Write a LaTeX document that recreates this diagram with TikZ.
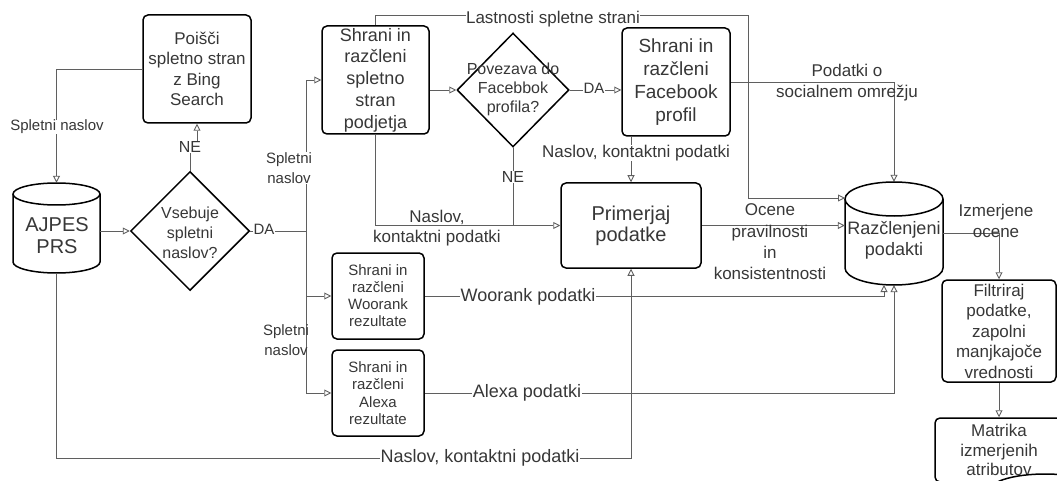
\documentclass[tikz,border=0pt]{standalone}
\usepackage{fontspec}
\setmainfont{Liberation Sans}
\usetikzlibrary{arrows.meta,shapes.geometric}
\definecolor{edgecol}{RGB}{95,95,95}
\definecolor{txtcol}{RGB}{55,55,55}
\newcommand\fsz[2]{\fontsize{#1}{#2}\selectfont}
\begin{document}
\begin{tikzpicture}[x=1pt,y=-1pt,
  box/.style={draw=black, line width=1.5pt, rounded corners=5pt, align=center, text=txtcol, inner sep=0pt},
  dia/.style={draw=black, line width=1.5pt, diamond, aspect=1, inner sep=0pt},
  edge/.style={draw=edgecol, line width=0.9pt, -{Triangle[open,length=7pt,width=7pt]}},
  plain/.style={draw=edgecol, line width=0.9pt},
  lbl/.style={text=txtcol, align=center, inner sep=0.5pt, font=\fsz{17}{21}},
  lblw/.style={lbl, fill=white},
  txt/.style={text=txtcol, align=center, inner sep=0pt}
]
\useasboundingbox (0,0) rectangle (1057,481);
\clip (0,0) rectangle (1057,481);

% ---- nodes ----
\node[box, minimum width=108pt, minimum height=108pt, font=\fsz{17}{20.5}] (bing) at (197,69) {Poišči\\spletno stran\\z Bing\\Search};

\node[minimum width=87pt, minimum height=90pt, inner sep=0pt] (ajpes) at (56.5,228) {};
\draw[line width=1.5pt] (13,194) -- (13,262) arc[start angle=180, end angle=360, x radius=43.5pt, y radius=11pt] -- (100,194) arc[start angle=0, end angle=180, x radius=43.5pt, y radius=11pt] -- cycle;
\draw[line width=1.5pt] (13,194) arc[start angle=180, end angle=360, x radius=43.5pt, y radius=11pt];
\node[txt, font=\fsz{20}{22}] at (57,236) {AJPES\\PRS};

\node[dia, minimum width=119pt, minimum height=119pt] (dia1) at (190,231) {};
\node[txt, font=\fsz{16}{20}] at (190,233) {Vsebuje\\spletni\\naslov?};

\node[box, minimum width=107pt, minimum height=108pt, font=\fsz{18}{21.7}] (web) at (375.5,80) {Shrani in\\razčleni\\spletno\\stran\\podjetja};

\node[dia, minimum width=112pt, minimum height=114pt] (dia2) at (513,90) {};
\node[txt, font=\fsz{16}{19}] at (513,89) {Povezava do\\Facebbok\\profila?};

\node[box, minimum width=108pt, minimum height=108pt, font=\fsz{19}{23}] (fb) at (676,82) {Shrani in\\razčleni\\Facebook\\profil};

\node[box, minimum width=140pt, minimum height=85pt, font=\fsz{20}{21}] (prim) at (631,225.5) {Primerjaj\\podatke};

\node[box, minimum width=92pt, minimum height=86pt, font=\fsz{15}{17}] (woo) at (378,296) {Shrani in\\razčleni\\Woorank\\rezultate};
\node[box, minimum width=92pt, minimum height=86pt, font=\fsz{15}{17.5}] (alexa) at (378,393) {Shrani in\\razčleni\\Alexa\\rezultate};

\node[minimum width=98pt, minimum height=103pt, inner sep=0pt] (razc) at (894,233.5) {};
\draw[line width=1.5pt] (845,199) -- (845,268) arc[start angle=180, end angle=360, x radius=49pt, y radius=17pt] -- (943,199) arc[start angle=0, end angle=180, x radius=49pt, y radius=17pt] -- cycle;
\draw[line width=1.5pt] (845,199) arc[start angle=180, end angle=360, x radius=49pt, y radius=17pt];
\node[txt, font=\fsz{18}{21}] at (894,240) {Razčlenjeni\\podakti};

\node[box, minimum width=114pt, minimum height=102pt, font=\fsz{17}{20.5}] (filt) at (999,331) {Filtriraj\\podatke,\\zapolni\\manjkajoče\\vrednosti};

\node[box, minimum width=128pt, minimum height=64pt, font=\fsz{17}{19.5}] (mat) at (999,450) {Matrika\\izmerjenih\\atributov};

% ---- coordinates ----
\coordinate (t) at (306,231);
\coordinate (top) at (748,15);
\coordinate (l1) at (845,198);
\coordinate (b) at (0,458);

% ---- connectors ----
\draw[edge] (ajpes.east |- dia1) -- (dia1.west);
\draw[edge] (dia1.north) -- (190,152) -| (bing.south);
\draw[edge] (bing.west) -| (ajpes.north);
\draw[plain] (dia1.east) -- (t);
\draw[edge] (t) |- (web.west);
\draw[edge] (t) |- (woo.west);
\draw[edge] (t) |- (alexa.west);
\draw[edge] (web.east |- dia2) -- (dia2.west);
\draw[edge] (dia2.east) -- (fb.west |- dia2);
\draw[plain] (dia2.south) -- (dia2.south |- prim.west);
\draw[edge] (web.south) |- (prim.west);
\draw[edge] (prim.north |- fb.south) -- (prim.north);
\draw[edge] (web.north) |- (top) |- (l1);
\draw[edge] (fb.east) -| (razc.north);
\draw[edge] (prim.east) -- (prim.east -| razc.west);
\draw[edge] (woo.east) -| (884,285);
\draw[edge] (alexa.east) -| (razc.south);
\draw[edge] (ajpes.south) -- (ajpes.south |- b) -| (prim.south);
\draw[edge] (razc.east) -| (filt.north);
\draw[edge] (filt.south) -- (mat.north);

% ---- labels ----
\node[lblw, font=\fsz{15}{18}] at (57,127) {Spletni naslov};
\node[lblw, font=\fsz{16}{18}] at (190,147) {NE};
\node[lblw, font=\fsz{15}{18}] at (264,229) {DA};
\node[lblw, font=\fsz{15}{20}] at (289,168) {Spletni\\naslov};
\node[lbl, font=\fsz{15}{20}] at (286,340) {Spletni\\naslov};
\node[lblw, font=\fsz{15}{18}] at (594,88) {DA};
\node[lblw, font=\fsz{16}{18}] at (513,177) {NE};
\node[lbl, font=\fsz{17}{20}] at (437,228) {Naslov,\\kontaktni podatki};
\node[lblw] at (636,153) {Naslov, kontaktni podatki};
\node[lblw] at (553,19) {Lastnosti spletne strani};
\node[lbl] at (847,83) {Podatki o\\socialnem omrežju};
\node[lbl, font=\fsz{17}{21.3}] at (770,242) {Ocene\\pravilnosti\\in\\konsistentnosti};
\node[lblw, font=\fsz{18}{21}] at (528,297) {Woorank podatki};
\node[lblw, font=\fsz{18}{21}] at (527,393) {Alexa podatki};
\node[lblw, font=\fsz{18}{21}] at (480,458) {Naslov, kontaktni podatki};
\node[lbl] at (996,220.5) {Izmerjene\\ocene};

% partial shape at the bottom right corner
\draw[line width=1.5pt, fill=white] (1045,490) ellipse [x radius=55pt, y radius=16pt];
\end{tikzpicture}
\end{document}
